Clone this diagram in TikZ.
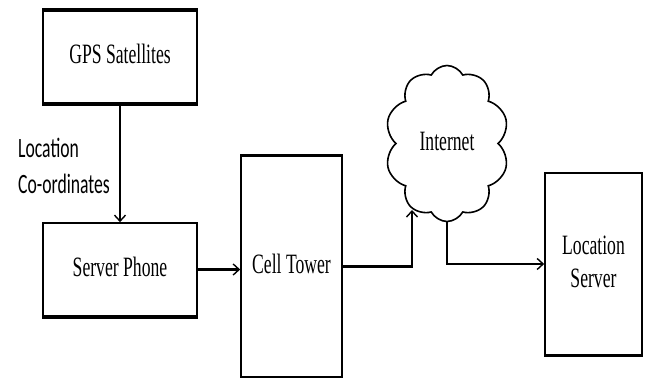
\documentclass[tikz,border=0pt]{standalone}
\usepackage{graphicx}
\usepackage{fontspec}
\setmainfont{Liberation Serif}
\newfontfamily\labelfont{Carlito}
\usetikzlibrary{arrows.meta,shapes.symbols}
% condensed text block (one or more lines)
\newcommand{\narrow}[2][c]{\scalebox{0.63}[1]{\begin{tabular}{@{}#1@{}}#2\end{tabular}}}

\begin{document}
\begin{tikzpicture}[x=1pt,y=-1pt,
  box/.style={draw, line width=1.6pt, inner sep=0pt, font=\fontsize{28}{33}\selectfont},
  heavy/.style={line width=3.6pt},
  link/.style={line width=2.4pt, -{Straight Barb[length=6pt,width=11pt,line width=1.4pt]}}]
\useasboundingbox (0,0) rectangle (646,379);

% blocks
\node[box, minimum width=154pt, minimum height=92pt] (gps) at (120,57) {\narrow{GPS Satellites}};
\node[box, minimum width=154pt, minimum height=93pt] (sp) at (120,269.5) {\narrow{Server Phone}};
\node[box, minimum width=101pt, minimum height=221pt] (ct) at (291.5,266.5) {\narrow{Cell Tower}};
\node[box, minimum width=97pt, minimum height=182pt] (ls) at (593.5,264) {\narrow{Location\\Server}};
\node[draw, line width=1.6pt, cloud, cloud puffs=10, cloud puff arc=125, aspect=0.8,
      minimum width=124pt, minimum height=156pt, inner sep=0pt,
      font=\fontsize{28}{33}\selectfont] (net) at (447,143.5) {\narrow{Internet}};

% heavier edges of the blocks
\draw[heavy] (gps.north west) -- (gps.north east);
\draw[heavy] (gps.south west) -- (gps.south east);
\draw[heavy] (sp.south west) -- (sp.south east);
\draw[line width=2.6pt] (ct.north west) -- (ct.north east);
\draw[line width=2.6pt] (ls.south west) -- (ls.south east);

% side label
\node[anchor=west, inner sep=0pt, font=\labelfont\fontsize{28}{36}\selectfont] (lbl) at (18,168)
  {\narrow[l]{Location\\Co-ordinates}};

% connectors
\coordinate (inlet) at (412,210);
\draw[link, line width=1.4pt] (gps.south) -- (sp.north);
\draw[link, line width=3pt] (sp.east) -- (sp.east -| ct.west);
\draw[link] (ct.east) -| (inlet);
\draw[link] (net.south) |- (ls.west);
\end{tikzpicture}
\end{document}
